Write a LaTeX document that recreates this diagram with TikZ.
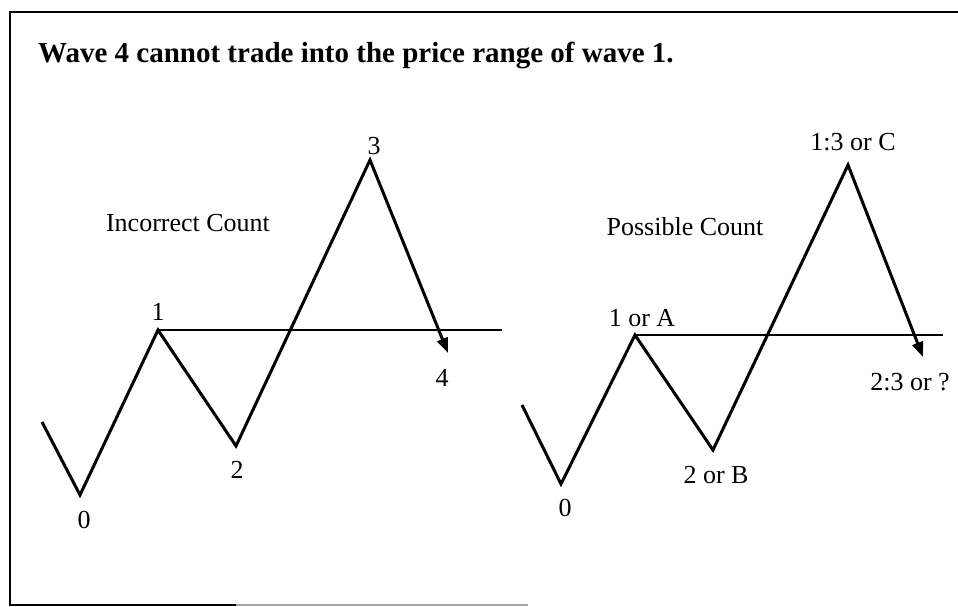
\documentclass[tikz,border=0pt]{standalone}
\usepackage{fontspec}
\setmainfont{Liberation Serif}
\usetikzlibrary{arrows.meta}

\begin{document}
\begin{tikzpicture}[x=1pt,y=-1pt,
    >={Triangle[length=15pt,width=11pt]},
    wave/.style={->,line width=3pt,line join=miter,miter limit=10},
    level/.style={line width=1.4pt},
    lbl/.style={inner sep=0pt,font=\fontsize{26}{28}\selectfont},
    frame/.style={line width=2pt}]
  \useasboundingbox (0,0) rectangle (958,607);
  % frame
  \coordinate (fa) at (958,12);
  \coordinate (fb) at (10,12);
  \coordinate (fc) at (10,605);
  \coordinate (fd) at (236,605);
  \coordinate (fe) at (528,605);
  \draw[frame] (fa) -- (fb) -- (fc) -- (fd);
  \draw[frame,black!35,line width=1.5pt] (fd) -- (fe);
  \node[anchor=base west,inner sep=0pt,font=\fontsize{29}{32}\selectfont\bfseries] (title) at (38,63)
    {Wave 4 cannot trade into the price range of wave 1.};
  % incorrect count
  \coordinate (ls) at (42,422);
  \coordinate (l0) at (80,495);
  \coordinate (l1) at (158,330);
  \coordinate (l2) at (236,446);
  \coordinate (l3) at (370,160);
  \coordinate (l4) at (448,353);
  \coordinate (lr) at (502,330);
  \draw[level] (l1) -- (lr);
  \draw[wave] (ls) -- (l0) -- (l1) -- (l2) -- (l3) -- (l4);
  \node[lbl] (lt) at (188,223) {Incorrect Count};
  \foreach \n/\x/\y/\t in {a/84/520/0,b/158/312/1,c/237/470/2,d/374/146/3,e/442/378/4}
    \node[lbl] (l\n) at (\x,\y) {\t};
  % possible count
  \coordinate (rs) at (522,405);
  \coordinate (r0) at (561,484);
  \coordinate (r1) at (635,335);
  \coordinate (r2) at (713,450);
  \coordinate (r3) at (848,165);
  \coordinate (r4) at (923,357);
  \coordinate (rr) at (943,335);
  \draw[level] (r1) -- (rr);
  \draw[wave] (rs) -- (r0) -- (r1) -- (r2) -- (r3) -- (r4);
  \node[lbl] (rt) at (685,227) {Possible Count};
  \foreach \n/\x/\y/\t in {a/565/508/0,b/642/318/1 or A,c/716/475/2 or B,d/853/142/1:3 or C,e/910/382/2:3 or ?}
    \node[lbl] (r\n) at (\x,\y) {\t};
\end{tikzpicture}
\end{document}
